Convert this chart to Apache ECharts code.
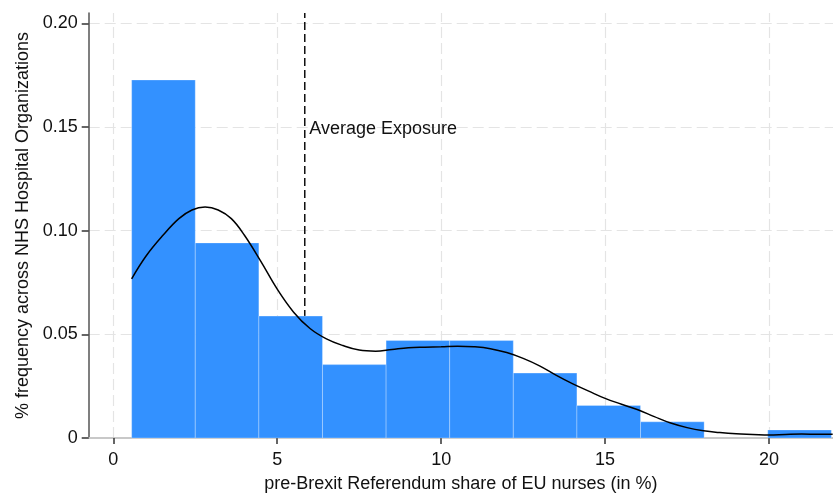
<!DOCTYPE html>
<html>
<head>
<meta charset="utf-8">
<script src="https://cdn.jsdelivr.net/npm/echarts@6/dist/echarts.min.js"></script>
<style>
html,body{margin:0;padding:0;background:#fff;}
#chart{width:833px;height:498px;}
</style>
</head>
<body>
<div id="chart"></div>
<script>
// ---- data ----
const binEdges = [0.56, 2.50, 4.44, 6.38, 8.32, 10.26, 12.20, 14.14, 16.08, 18.02, 19.96, 21.90];
const binDensity = [0.1727, 0.0941, 0.0588, 0.0354, 0.0470, 0.0470, 0.0313, 0.0157, 0.0078, 0, 0.0039];

const densX = [0.56, 1.0, 1.5, 2.0, 2.4, 2.8, 3.2, 3.6, 4.0, 4.5, 5.0, 5.5, 6.0, 6.5, 7.0, 7.5, 8.0, 8.5, 9.0, 9.5, 10.0, 10.5, 11.0, 11.5, 12.0, 12.5, 13.0, 13.5, 14.0, 14.5, 15.0, 15.5, 16.0, 16.5, 17.0, 17.5, 18.0, 18.5, 19.0, 19.5, 20.0, 20.5, 21.0, 21.5, 21.94];
const densY = [0.0768, 0.0878, 0.0975, 0.1058, 0.1100, 0.1114, 0.1100, 0.1058, 0.0978, 0.0852, 0.0718, 0.0607, 0.0528, 0.0478, 0.0446, 0.0424, 0.0419, 0.0427, 0.0435, 0.0438, 0.0440, 0.0443, 0.0440, 0.0431, 0.0412, 0.0384, 0.0348, 0.0303, 0.0262, 0.0226, 0.0191, 0.0163, 0.0136, 0.0103, 0.0072, 0.0050, 0.0035, 0.0026, 0.0020, 0.0017, 0.0014, 0.0017, 0.0019, 0.0018, 0.0018];

const meanExposure = 5.84;
const meanLabel = 'Average Exposure';
const meanLabelY = 0.149;

const xTicks = [0, 5, 10, 15, 20];
const xTickLabels = ['0', '5', '10', '15', '20'];
const yTicks = [0, 0.05, 0.10, 0.15, 0.20];
const yTickLabels = ['0', '0.05', '0.10', '0.15', '0.20'];

const xTitle = 'pre-Brexit Referendum share of EU nurses (in %)';
const yTitle = '% frequency across NHS Hospital Organizations';

const xMin = -0.75, xMax = 21.95, yMin = 0, yMax = 0.205;

// ---- build ----
const FONT = '"Liberation Sans", Arial, Helvetica, sans-serif';
const TXT = '#111';

const histData = binDensity.map((h, i) => [binEdges[i], binEdges[i + 1], h]);
const densData = densX.map((x, i) => [x, densY[i]]);

const gridLines = xTicks.map(v => ({ xAxis: v }))
  .concat(yTicks.filter(v => v > 0).map(v => ({ yAxis: v })));

const chart = echarts.init(document.getElementById('chart'), null, { renderer: 'canvas' });
chart.setOption({
  backgroundColor: '#fff',
  animation: false,
  grid: { left: 88.7, right: 0, top: 13, bottom: 55, containLabel: false },
  xAxis: {
    type: 'value', min: xMin, max: xMax,
    name: xTitle, nameLocation: 'middle', nameGap: 37,
    nameTextStyle: { fontFamily: FONT, fontSize: 18, color: TXT },
    axisLine: { show: true, onZero: false, lineStyle: { color: '#c8c8c8', width: 2 } },
    axisTick: { show: true, customValues: xTicks, length: 6, lineStyle: { color: '#333', width: 1.5 } },
    axisLabel: {
      customValues: xTicks, margin: 13,
      fontFamily: FONT, fontSize: 18, color: TXT,
      formatter: v => xTickLabels[xTicks.indexOf(v)] ?? ''
    },
    splitLine: { show: false }
  },
  yAxis: {
    type: 'value', min: yMin, max: yMax,
    name: yTitle, nameLocation: 'middle', nameGap: 53,
    nameTextStyle: { fontFamily: FONT, fontSize: 18, color: TXT },
    axisLine: { show: true, onZero: false, lineStyle: { color: '#555', width: 1.5 } },
    axisTick: { show: true, customValues: yTicks, length: 7, lineStyle: { color: '#333', width: 1.5 } },
    axisLabel: {
      customValues: yTicks, margin: 11,
      fontFamily: FONT, fontSize: 18, color: TXT,
      formatter: v => {
        const i = yTicks.findIndex(t => Math.abs(t - v) < 1e-9);
        return i >= 0 ? yTickLabels[i] : '';
      }
    },
    splitLine: { show: false }
  },
  series: [
    {
      // reference line + grid lines (drawn behind bars)
      type: 'line',
      z: 1,
      silent: true,
      symbol: 'none',
      data: [[meanExposure, yMin], [meanExposure, yMax]],
      lineStyle: { color: '#111', width: 1.5, type: [8, 4] },
      markLine: {
        silent: true, z: 0, symbol: 'none', animation: false,
        label: { show: false },
        lineStyle: { color: '#e4e4e4', width: 1.2, type: [11, 5] },
        data: gridLines
      }
    },
    {
      type: 'custom',
      z: 5,
      silent: true,
      data: histData,
      renderItem: function (params, api) {
        const x0 = api.value(0), x1 = api.value(1), h = api.value(2);
        if (!h) return null;
        const p0 = api.coord([x0, h]);
        const p1 = api.coord([x1, 0]);
        return {
          type: 'rect',
          shape: { x: p0[0], y: p0[1], width: p1[0] - p0[0], height: p1[1] - p0[1] },
          style: { fill: '#3391ff', stroke: 'rgba(255,255,255,0.28)', lineWidth: 1 }
        };
      }
    },
    {
      type: 'line',
      z: 10,
      silent: true,
      symbol: 'none',
      smooth: 0.4,
      data: densData,
      lineStyle: { color: '#000', width: 1.5 }
    },
    {
      type: 'scatter',
      z: 11,
      silent: true,
      symbolSize: 1,
      itemStyle: { opacity: 0 },
      data: [[meanExposure, meanLabelY]],
      label: {
        show: true, position: 'right', distance: 4,
        formatter: meanLabel, opacity: 1,
        fontFamily: FONT, fontSize: 18, color: TXT
      }
    }
  ]
});
</script>
</body>
</html>
